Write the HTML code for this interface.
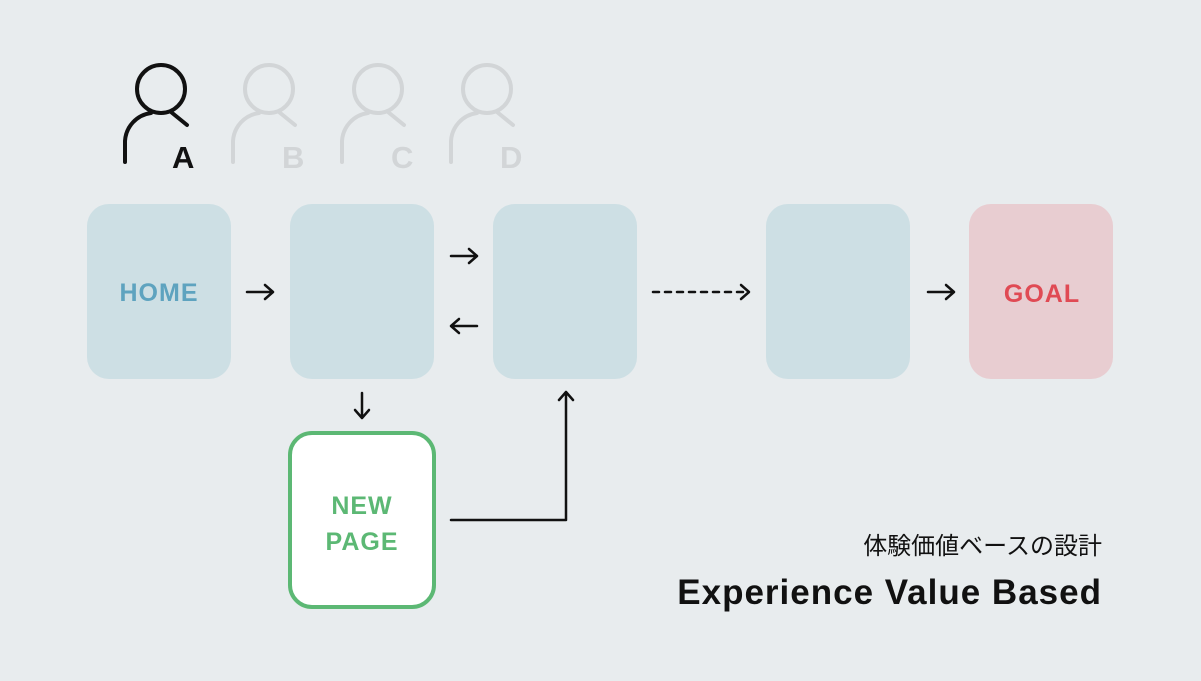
<!DOCTYPE html>
<html><head><meta charset="utf-8"><style>
html,body{margin:0;padding:0;background:#e8ecee;}
svg{display:block}
</style></head><body>
<svg width="1201" height="681" viewBox="0 0 1201 681" xmlns="http://www.w3.org/2000/svg">
<rect width="1201" height="681" fill="#e8ecee"/>
<defs>
<g id="p" fill="none" stroke-width="4" stroke-linecap="round">
<circle cx="0" cy="0" r="24"/>
<path d="M-36 73 V52 A30 30 0 0 1 -10 24 M10 23 L26 36"/>
</g>
</defs>
<g stroke="#111"><use href="#p" x="161" y="89"/></g>
<g stroke="#d2d5d7"><use href="#p" x="269" y="89"/><use href="#p" x="378" y="89"/><use href="#p" x="487" y="89"/></g>
<g font-family="Liberation Sans, sans-serif" font-weight="bold" font-size="31">
<text x="172" y="168" fill="#111">A</text>
<text x="282" y="168" fill="#d2d5d7">B</text>
<text x="391" y="168" fill="#d2d5d7">C</text>
<text x="500" y="168" fill="#d2d5d7">D</text>
</g>
<g fill="#cddfe4">
<rect x="87" y="204" width="144" height="175" rx="22"/>
<rect x="290" y="204" width="144" height="175" rx="22"/>
<rect x="493" y="204" width="144" height="175" rx="22"/>
<rect x="766" y="204" width="144" height="175" rx="22"/>
</g>
<rect x="969" y="204" width="144" height="175" rx="22" fill="#e8cdd1"/>
<rect x="290" y="433" width="144" height="174" rx="22" fill="#fff" stroke="#5cb874" stroke-width="4"/>
<g font-family="Liberation Sans, sans-serif" font-weight="bold" font-size="25" text-anchor="middle" letter-spacing="1">
<text x="159" y="301" fill="#5ea3bf">HOME</text>
<text x="1042" y="302" fill="#e04a54">GOAL</text>
<text x="362" y="514" fill="#5cb874">NEW</text>
<text x="362" y="550" fill="#5cb874">PAGE</text>
</g>
<g stroke="#111" stroke-width="2.5" fill="none" stroke-linecap="round" stroke-linejoin="round">
<path d="M247 292 H273 M265 285 L273 292 L265 299"/>
<path d="M451 256 H477 M469 249 L477 256 L469 263"/>
<path d="M477 326 H451 M459 319 L451 326 L459 333"/>
<path d="M928 292 H954 M946 285 L954 292 L946 299"/>
<path d="M362 393 V418 M355 410 L362 418 L369 410"/>
<path d="M653 292 H748" stroke-dasharray="6 6"/>
<path d="M741 285 L749 292 L741 299"/>
<path d="M451 520 H566 V392 M559 400 L566 392 L573 400"/>
</g>
<text x="1102" y="554" text-anchor="end" font-family="Liberation Sans, Noto Sans CJK JP, sans-serif" font-size="24" fill="#111">体験価値ベースの設計</text>
<text x="1102" y="604" text-anchor="end" font-family="Liberation Sans, sans-serif" font-weight="bold" font-size="35" fill="#111" letter-spacing="1">Experience Value Based</text>
</svg>
</body></html>
